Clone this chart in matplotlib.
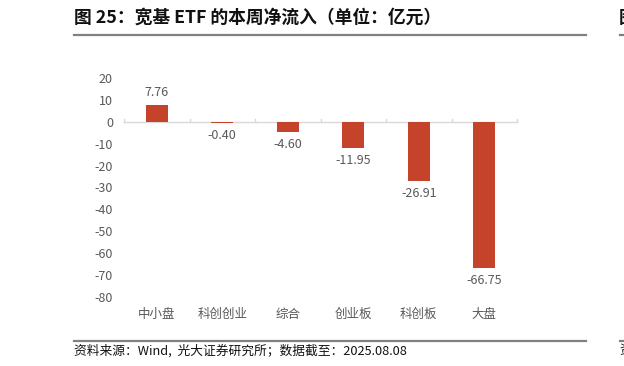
import matplotlib
matplotlib.use("Agg")
import matplotlib.pyplot as plt
from matplotlib.lines import Line2D

plt.rcParams['font.family'] = ['Noto Sans CJK SC', 'DejaVu Sans']

categories = ['中小盘', '科创创业', '综合', '创业板', '科创板', '大盘']
values = [7.76, -0.40, -4.60, -11.95, -26.91, -66.75]
yticks = [20, 10, 0, -10, -20, -30, -40, -50, -60, -70, -80]
title = '图 25：宽基 ETF 的本周净流入（单位：亿元）'
source = '资料来源：Wind,  光大证券研究所；数据截至：2025.08.08'

W, H = 624, 366
fig = plt.figure(figsize=(W/100, H/100), dpi=100)

def fx(px): return px / W
def fy(py): return 1 - py / H

ax = fig.add_axes([fx(124), fy(297), fx(517) - fx(124), fy(78) - fy(297)])
x = list(range(len(categories)))
ax.bar(x, values, width=0.34, color='#C5432A', zorder=2)
ax.set_xlim(-0.5, len(categories) - 0.5)
ax.set_ylim(-80, 20)
ax.set_yticks(yticks)
ax.set_yticklabels([str(v) for v in yticks])
ax.set_xticks(x)
ax.set_xticklabels(categories)
for s in ax.spines.values():
    s.set_visible(False)
ax.tick_params(axis='y', length=0, pad=8, labelsize=9, labelcolor='#595959')
ax.tick_params(axis='x', length=0, pad=8, labelsize=9, labelcolor='#595959')
ax.axhline(0, color='#D9D9D9', lw=1, zorder=1)
for b in range(len(categories) + 1):
    ax.plot([b - 0.5, b - 0.5], [0, 1.4], color='#D9D9D9', lw=1, zorder=1, clip_on=False)

for xi, v in zip(x, values):
    if v >= 0:
        ax.annotate(f'{v:.2f}', (xi, v), xytext=(0, 4.5), textcoords='offset points',
                    ha='center', va='bottom', fontsize=9, color='#595959')
    else:
        ax.annotate(f'{v:.2f}', (xi, v), xytext=(0, -4.5), textcoords='offset points',
                    ha='center', va='top', fontsize=9, color='#595959')

fig.text(fx(74), fy(18), title, fontsize=12.8, fontweight='bold', color='#111111',
         ha='left', va='center')
fig.add_artist(Line2D([fx(74), fx(586)], [fy(35), fy(35)], color='#808080', lw=1.6))
fig.add_artist(Line2D([fx(74), fx(586)], [fy(341), fy(341)], color='#808080', lw=1.6))
fig.text(fx(74), fy(351), source, fontsize=9.2, color='#111111', ha='left', va='center')

# partial neighbouring panel at right edge
fig.text(fx(619), fy(18), '图', fontsize=12.8, fontweight='bold', color='#111111',
         ha='left', va='center')
fig.add_artist(Line2D([fx(620), fx(630)], [fy(35), fy(35)], color='#808080', lw=1.6))
fig.add_artist(Line2D([fx(620), fx(630)], [fy(341), fy(341)], color='#808080', lw=1.6))
fig.text(fx(619), fy(351), '资', fontsize=9.2, color='#111111', ha='left', va='center')

fig.savefig('out.png', dpi=100)
